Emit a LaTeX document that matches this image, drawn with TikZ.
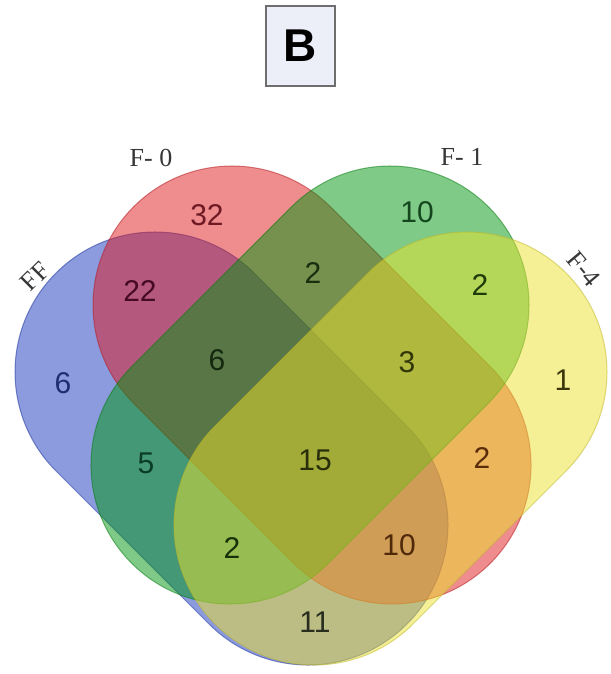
\documentclass[tikz,border=0pt]{standalone}
\usepackage{fontspec}
\setmainfont{Liberation Serif}
\setsansfont{Liberation Sans}
\definecolor{cA}{RGB}{25,55,190}
\definecolor{cB}{RGB}{221,25,30}
\definecolor{cC}{RGB}{0,150,15}
\definecolor{cD}{RGB}{235,225,45}
\definecolor{boxfill}{RGB}{236,238,248}
\definecolor{boxline}{RGB}{110,110,110}
\definecolor{lab}{RGB}{55,55,55}
\definecolor{t32}{RGB}{110,25,35}
\definecolor{t10c}{RGB}{20,70,30}
\definecolor{t22}{RGB}{70,10,35}
\definecolor{t2bc}{RGB}{25,45,15}
\definecolor{t2cd}{RGB}{30,60,10}
\definecolor{t6a}{RGB}{30,45,110}
\definecolor{t6abc}{RGB}{20,40,15}
\definecolor{t3}{RGB}{50,55,10}
\definecolor{t1}{RGB}{60,55,10}
\definecolor{t5}{RGB}{10,60,40}
\definecolor{t15}{RGB}{40,45,10}
\definecolor{t2bd}{RGB}{90,45,10}
\definecolor{t2acd}{RGB}{20,50,10}
\definecolor{t10abd}{RGB}{80,40,10}
\definecolor{t11}{RGB}{40,45,30}
\begin{document}
\begin{tikzpicture}[x=1pt,y=1pt,
  setshape/.style={fill=#1, fill opacity=0.5, draw=#1!80!black, draw opacity=0.5, line width=1pt},
  num/.style={font=\sffamily\fontsize{30}{30}\selectfont, text=#1, inner sep=0pt},
  setlab/.style={font=\rmfamily\fontsize{26}{26}\selectfont, text=lab, inner sep=0pt}]
\useasboundingbox (0,0) rectangle (610,674);
% FF (blue)
\begin{scope}[shift={(155,302)}, rotate=-45]
\path[setshape=cA] (0,-140) -- (216.4,-140) arc[start angle=-90,end angle=90,radius=140pt] -- (0,140) arc[start angle=90,end angle=270,radius=140pt] -- cycle;
\end{scope}
% F-0 (red)
\begin{scope}[shift={(232,369)}, rotate=-45]
\path[setshape=cB] (0,-139) -- (226.3,-139) arc[start angle=-90,end angle=90,radius=139pt] -- (0,139) arc[start angle=90,end angle=270,radius=139pt] -- cycle;
\end{scope}
% F-1 (green)
\begin{scope}[shift={(390,369)}, rotate=-135]
\path[setshape=cC] (0,139) -- (226.3,139) arc[start angle=90,end angle=-90,radius=139pt] -- (0,-139) arc[start angle=-90,end angle=-270,radius=139pt] -- cycle;
\end{scope}
% F-4 (yellow)
\begin{scope}[shift={(467,302)}, rotate=-135]
\path[setshape=cD] (0,140) -- (216.4,140) arc[start angle=90,end angle=-90,radius=140pt] -- (0,-140) arc[start angle=-90,end angle=-270,radius=140pt] -- cycle;
\end{scope}
% title box
\node[draw=boxline, fill=boxfill, line width=1.8pt, minimum width=69pt, minimum height=80pt, inner sep=0pt,
  font=\sffamily\bfseries\fontsize{46}{46}\selectfont] (title) at (300.5,628) {B};
% set labels
\node[setlab] (lF0) at (151,516) {F- 0};
\node[setlab] (lF1) at (462,517) {F- 1};
\node[setlab, rotate=45] (lFF) at (35,398) {FF};
\node[setlab, rotate=-50] (lF4) at (584,405) {F-4};
% region counts
\node[num=t32] (n32) at (207,459) {32};
\node[num=t10c] (n10c) at (417,462) {10};
\node[num=t22] (n22) at (140,383) {22};
\node[num=t2bc] (n2bc) at (313,401) {2};
\node[num=t2cd] (n2cd) at (480,389) {2};
\node[num=t6a] (n6a) at (63,291) {6};
\node[num=t6abc] (n6abc) at (217,314) {6};
\node[num=t3] (n3) at (407,312) {3};
\node[num=t1] (n1) at (563,294) {1};
\node[num=t5] (n5) at (146,211) {5};
\node[num=t15] (n15) at (315,214) {15};
\node[num=t2bd] (n2bd) at (482,216) {2};
\node[num=t2acd] (n2acd) at (232,126) {2};
\node[num=t10abd] (n10abd) at (399,129) {10};
\node[num=t11] (n11) at (315,52) {11};
\end{tikzpicture}
\end{document}
